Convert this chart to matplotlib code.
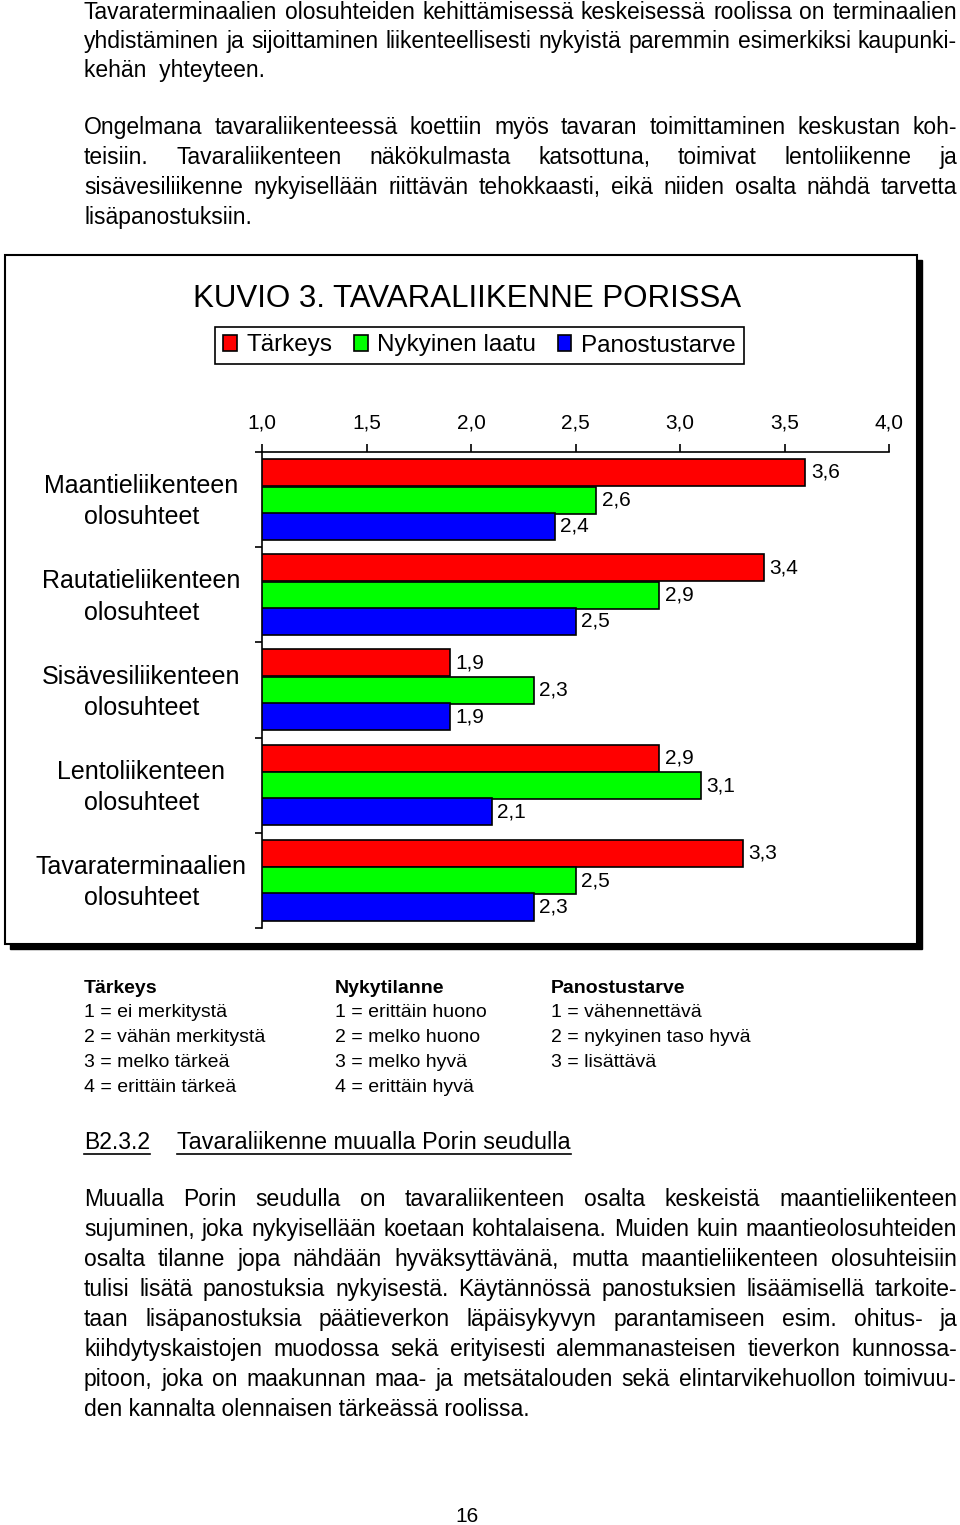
import matplotlib
matplotlib.use("Agg")
import matplotlib.pyplot as plt
import numpy as np
from matplotlib import font_manager
from matplotlib.patches import Rectangle
from matplotlib.lines import Line2D
from matplotlib.transforms import ScaledTranslation

# ---------------- data ----------------
categories = ["Maantieliikenteen\nolosuhteet",
              "Rautatieliikenteen\nolosuhteet",
              "Sisävesiliikenteen\nolosuhteet",
              "Lentoliikenteen\nolosuhteet",
              "Tavaraterminaalien\nolosuhteet"]
series_names = ["Tärkeys", "Nykyinen laatu", "Panostustarve"]
tarkeys = [3.6, 3.4, 1.9, 2.9, 3.3]
nykyinen_laatu = [2.6, 2.9, 2.3, 3.1, 2.5]
panostustarve = [2.4, 2.5, 1.9, 2.1, 2.3]
x_ticks = [1.0, 1.5, 2.0, 2.5, 3.0, 3.5, 4.0]
x_tick_labels = ["1,0", "1,5", "2,0", "2,5", "3,0", "3,5", "4,0"]
title = "KUVIO 3. TAVARALIIKENNE PORISSA"

para1 = ["Tavaraterminaalien olosuhteiden kehittämisessä keskeisessä roolissa on terminaalien",
         "yhdistäminen ja sijoittaminen liikenteellisesti nykyistä paremmin esimerkiksi kaupunki-",
         "kehän  yhteyteen."]
para2 = ["Ongelmana tavaraliikenteessä koettiin myös tavaran toimittaminen keskustan koh-",
         "teisiin. Tavaraliikenteen näkökulmasta katsottuna, toimivat lentoliikenne ja",
         "sisävesiliikenne nykyisellään riittävän tehokkaasti, eikä niiden osalta nähdä tarvetta",
         "lisäpanostuksiin."]
para3 = ["Muualla Porin seudulla on tavaraliikenteen osalta keskeistä maantieliikenteen",
         "sujuminen, joka nykyisellään koetaan kohtalaisena. Muiden kuin maantieolosuhteiden",
         "osalta tilanne jopa nähdään hyväksyttävänä, mutta maantieliikenteen olosuhteisiin",
         "tulisi lisätä panostuksia nykyisestä. Käytännössä panostuksien lisäämisellä tarkoite-",
         "taan lisäpanostuksia päätieverkon läpäisykyvyn parantamiseen esim. ohitus- ja",
         "kiihdytyskaistojen muodossa sekä erityisesti alemmanasteisen tieverkon kunnossa-",
         "pitoon, joka on maakunnan maa- ja metsätalouden sekä elintarvikehuollon toimivuu-",
         "den kannalta olennaisen tärkeässä roolissa."]
scale_cols = [("Tärkeys", ["1 = ei merkitystä", "2 = vähän merkitystä",
                           "3 = melko tärkeä", "4 = erittäin tärkeä"]),
              ("Nykytilanne", ["1 = erittäin huono", "2 = melko huono",
                               "3 = melko hyvä", "4 = erittäin hyvä"]),
              ("Panostustarve", ["1 = vähennettävä", "2 = nykyinen taso hyvä",
                                 "3 = lisättävä"])]
section_no = "B2.3.2"
section_title = "Tavaraliikenne muualla Porin seudulla"
page_no = "16"

# ---------------- fonts ----------------
names = {f.name for f in font_manager.fontManager.ttflist}
REG = "Liberation Sans" if "Liberation Sans" in names else "DejaVu Sans"
if "Liberation Sans Narrow" in names:
    NARROW, NSIZE = "Liberation Sans Narrow", 18
else:
    NARROW, NSIZE = REG, 15
plt.rcParams["font.family"] = [REG, "DejaVu Sans"]

W, H = 960, 1525
fig = plt.figure(figsize=(W / 100, H / 100), dpi=100)


def px(x):
    return x / W


def py(y):
    return 1 - y / H


renderer = fig.canvas.get_renderer()
BODY = 16.5


def body_line(text, ybase, x0=84, x1=957, justify=True, size=BODY):
    if not justify:
        fig.text(px(x0), py(ybase), text, fontsize=size, va="baseline", ha="left")
        return
    words = text.split(" ")
    objs = [fig.text(0, 0, w, fontsize=size, va="baseline", ha="left") for w in words]
    widths = [o.get_window_extent(renderer).width for o in objs]
    gap = (x1 - x0 - sum(widths)) / (len(words) - 1)
    min_gap = 0.2 * size * 100 / 72
    if gap < min_gap:
        f = (x1 - x0 - min_gap * (len(words) - 1)) / sum(widths)
        size = size * f
        for o in objs:
            o.set_fontsize(size)
        widths = [o.get_window_extent(renderer).width for o in objs]
        gap = (x1 - x0 - sum(widths)) / (len(words) - 1)
    x = x0
    for o, w in zip(objs, widths):
        o.set_position((px(x), py(ybase)))
        x += w + gap


# paragraphs at top
for i, (line, yb) in enumerate(zip(para1, [19, 48, 77])):
    body_line(line, yb, justify=(i < len(para1) - 1))
for i, (line, yb) in enumerate(zip(para2, [134, 164, 194, 224])):
    body_line(line, yb, justify=(i < len(para2) - 1))

# ---------------- chart frame ----------------
fig.patches.append(Rectangle((px(10), py(949)), px(922) - px(10), py(260) - py(949),
                             transform=fig.transFigure, facecolor="black",
                             edgecolor="black", zorder=0))
fig.patches.append(Rectangle((px(5), py(944)), px(917) - px(5), py(255) - py(944),
                             transform=fig.transFigure, facecolor="white",
                             edgecolor="black", linewidth=1.5, zorder=0.5))

fig.text(px(467), py(299), title, fontsize=22.5, ha="center", va="center")

ax = fig.add_axes([px(262), py(928), px(889) - px(262), py(452) - py(928)])
ax.set_zorder(2)
ax.patch.set_visible(False)

colors = ["#ff0000", "#00ff00", "#0000ff"]
values = [tarkeys, nykyinen_laatu, panostustarve]
centers = np.arange(len(categories)) + 0.5
offsets = [-0.285, 0.005, 0.28]
bar_h = 0.285
containers = []
for vals, col, off, name in zip(values, colors, offsets, series_names):
    c = ax.barh(centers + off, vals, height=bar_h, left=0, color=col,
                edgecolor="black", linewidth=1.2, label=name)
    containers.append(c)
    ax.bar_label(c, labels=[f"{v:.1f}".replace(".", ",") for v in vals],
                 padding=4, fontsize=NSIZE, family=NARROW)

ax.set_xlim(1.0, 4.0)
ax.set_ylim(len(categories), 0)
ax.xaxis.tick_top()
ax.set_xticks(x_ticks)
ax.set_xticklabels(x_tick_labels, fontsize=NSIZE, family=NARROW)
ax.tick_params(axis="x", direction="out", length=6, width=1.2, pad=8)
ax.set_yticks(np.arange(len(categories) + 1))
ax.set_yticklabels([])
ax.tick_params(axis="y", which="major", direction="out", length=5, width=1.2)
ax.set_yticks(centers, minor=True)
ax.set_yticklabels(categories, minor=True, fontsize=18, ha="center",
                   multialignment="center", linespacing=1.38)
ax.tick_params(axis="y", which="minor", length=0, pad=87)
shift = ScaledTranslation(0, 4 / 100, fig.dpi_scale_trans)
for lbl in ax.get_yticklabels(minor=True):
    lbl.set_transform(lbl.get_transform() + shift)
for s in ["right", "bottom"]:
    ax.spines[s].set_visible(False)
for s in ["top", "left"]:
    ax.spines[s].set_linewidth(1.2)

leg = fig.legend(handles=containers, labels=series_names, loc="center",
                 bbox_to_anchor=(px(479.5), py(345.5)), ncol=3, frameon=True,
                 fancybox=False, edgecolor="black", framealpha=1, fontsize=17.5,
                 handlelength=0.55, handleheight=0.6, handletextpad=0.4,
                 columnspacing=0.9, borderpad=0.32, borderaxespad=0)
leg.get_frame().set_linewidth(1.2)
leg.set_zorder(3)

# ---------------- scale explanation ----------------
col_x = [84, 335, 551]
row_y = [993, 1017, 1042, 1067, 1092]
for (head, items), cx in zip(scale_cols, col_x):
    fig.text(px(cx), py(row_y[0]), head, fontsize=14, fontweight="bold",
             va="baseline", ha="left")
    for it, yb in zip(items, row_y[1:]):
        fig.text(px(cx), py(yb), it, fontsize=14, va="baseline", ha="left")

# section heading (underlined)
t1 = fig.text(px(84), py(1149), section_no, fontsize=16.5, va="baseline", ha="left")
t2 = fig.text(px(177), py(1149), section_title, fontsize=16.8, va="baseline", ha="left")
for t, x0 in [(t1, 84), (t2, 177)]:
    w = t.get_window_extent(renderer).width
    fig.add_artist(Line2D([px(x0), px(x0 + w)], [py(1154), py(1154)],
                          transform=fig.transFigure, color="black", linewidth=1.2))

for i, (line, yb) in enumerate(zip(para3, [1206 + 30 * k for k in range(8)])):
    body_line(line, yb, justify=(i < len(para3) - 1))

fig.text(px(467), py(1522), page_no, fontsize=15, ha="center", va="baseline")

fig.savefig("out.png", dpi=100)
